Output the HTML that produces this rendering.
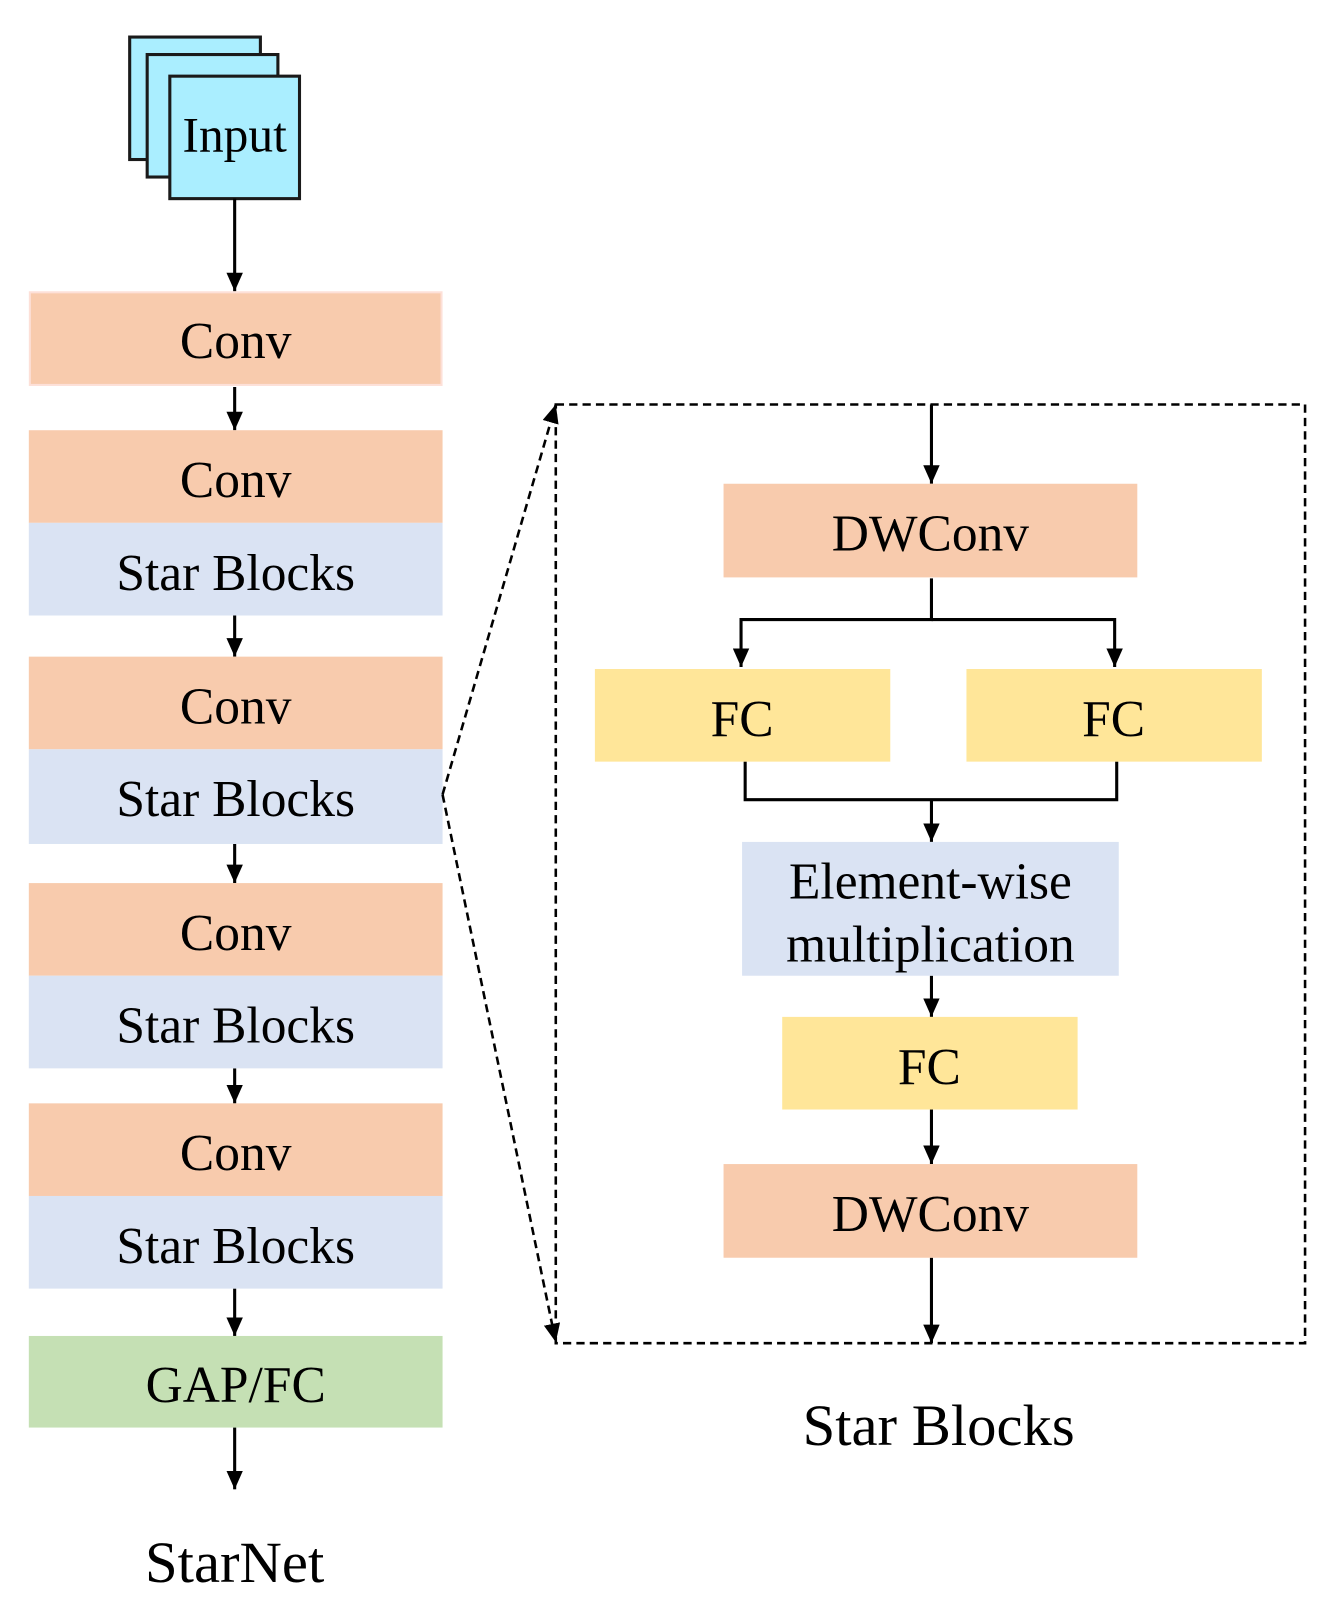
<!DOCTYPE html>
<html><head><meta charset="utf-8"><style>
html,body{margin:0;padding:0;background:#fff;}
svg{display:block;}
text{font-family:"Liberation Serif",serif;fill:#000;text-anchor:middle;}
</style></head><body>
<svg width="1338" height="1619" viewBox="0 0 1300 1573" preserveAspectRatio="none" xmlns="http://www.w3.org/2000/svg">
<defs>
<marker id="b" markerWidth="18" markerHeight="16" refX="18" refY="8" orient="auto" markerUnits="userSpaceOnUse" viewBox="0 0 18 16">
<path d="M0,0 L18,8 L0,16 z" fill="#000"/></marker>
</defs>
<rect x="126" y="36" width="127" height="119" fill="#AAEEFF" stroke="#1a1a1a" stroke-width="3"/>
<rect x="143" y="53" width="127" height="119" fill="#AAEEFF" stroke="#1a1a1a" stroke-width="3"/>
<rect x="165" y="74" width="126" height="119" fill="#AAEEFF" stroke="#1a1a1a" stroke-width="3"/>
<text x="228" y="147" font-size="48">Input</text>
<g stroke="#000" stroke-width="3" fill="none">
<line x1="228" y1="193" x2="228" y2="283" marker-end="url(#b)"/>
<line x1="228" y1="376" x2="228" y2="418" marker-end="url(#b)"/>
<line x1="228" y1="598" x2="228" y2="638" marker-end="url(#b)"/>
<line x1="228" y1="820" x2="228" y2="858" marker-end="url(#b)"/>
<line x1="228" y1="1038" x2="228" y2="1072" marker-end="url(#b)"/>
<line x1="228" y1="1252" x2="228" y2="1298" marker-end="url(#b)"/>
<line x1="228" y1="1387" x2="228" y2="1447" marker-end="url(#b)"/>
</g>
<rect x="29" y="284" width="400" height="90" fill="#F8CBAD" stroke="#fde0d8" stroke-width="2"/>
<text x="229" y="348" font-size="50">Conv</text>
<rect x="28" y="418" width="402" height="90" fill="#F8CBAD"/><text x="229" y="483" font-size="50">Conv</text>
<rect x="28" y="508" width="402" height="90" fill="#DAE3F3"/><text x="229" y="573" font-size="50">Star Blocks</text>
<rect x="28" y="638" width="402" height="90" fill="#F8CBAD"/><text x="229" y="703" font-size="50">Conv</text>
<rect x="28" y="728" width="402" height="92" fill="#DAE3F3"/><text x="229" y="793" font-size="50">Star Blocks</text>
<rect x="28" y="858" width="402" height="90" fill="#F8CBAD"/><text x="229" y="923" font-size="50">Conv</text>
<rect x="28" y="948" width="402" height="90" fill="#DAE3F3"/><text x="229" y="1013" font-size="50">Star Blocks</text>
<rect x="28" y="1072" width="402" height="90" fill="#F8CBAD"/><text x="229" y="1137" font-size="50">Conv</text>
<rect x="28" y="1162" width="402" height="90" fill="#DAE3F3"/><text x="229" y="1227" font-size="50">Star Blocks</text>
<rect x="28" y="1298" width="402" height="89" fill="#C5E0B4"/><text x="229" y="1362" font-size="50">GAP/FC</text>
<text x="228" y="1537" font-size="57">StarNet</text>
<g stroke="#000" stroke-width="2.5" fill="none" stroke-dasharray="8,5">
<rect x="540" y="393" width="728" height="912"/>
<line x1="430" y1="772" x2="540" y2="393" marker-end="url(#b)"/>
<line x1="430" y1="772" x2="540" y2="1304" marker-end="url(#b)"/>
</g>
<g stroke="#000" stroke-width="3" fill="none">
<line x1="905" y1="393" x2="905" y2="470" marker-end="url(#b)"/>
<polyline points="905,562 905,602 720,602 720,648" marker-end="url(#b)"/>
<polyline points="905,602 1083,602 1083,648" marker-end="url(#b)"/>
<polyline points="724,740 724,777 1085,777 1085,740"/>
<line x1="905" y1="777" x2="905" y2="818" marker-end="url(#b)"/>
<line x1="905" y1="948" x2="905" y2="988" marker-end="url(#b)"/>
<line x1="905" y1="1078" x2="905" y2="1131" marker-end="url(#b)"/>
<line x1="905" y1="1222" x2="905" y2="1305" marker-end="url(#b)"/>
</g>
<rect x="703" y="470" width="402" height="91" fill="#F8CBAD"/><text x="904" y="535" font-size="50">DWConv</text>
<rect x="578" y="650" width="287" height="90" fill="#FFE699"/><text x="721" y="715" font-size="50">FC</text>
<rect x="939" y="650" width="287" height="90" fill="#FFE699"/><text x="1082" y="715" font-size="50">FC</text>
<rect x="721" y="818" width="366" height="130" fill="#DAE3F3"/>
<text x="904" y="873" font-size="50">Element-wise</text>
<text x="904" y="934" font-size="50">multiplication</text>
<rect x="760" y="988" width="287" height="90" fill="#FFE699"/><text x="903" y="1053" font-size="50">FC</text>
<rect x="703" y="1131" width="402" height="91" fill="#F8CBAD"/><text x="904" y="1196" font-size="50">DWConv</text>
<text x="912" y="1404" font-size="57">Star Blocks</text>
</svg>
</body></html>
